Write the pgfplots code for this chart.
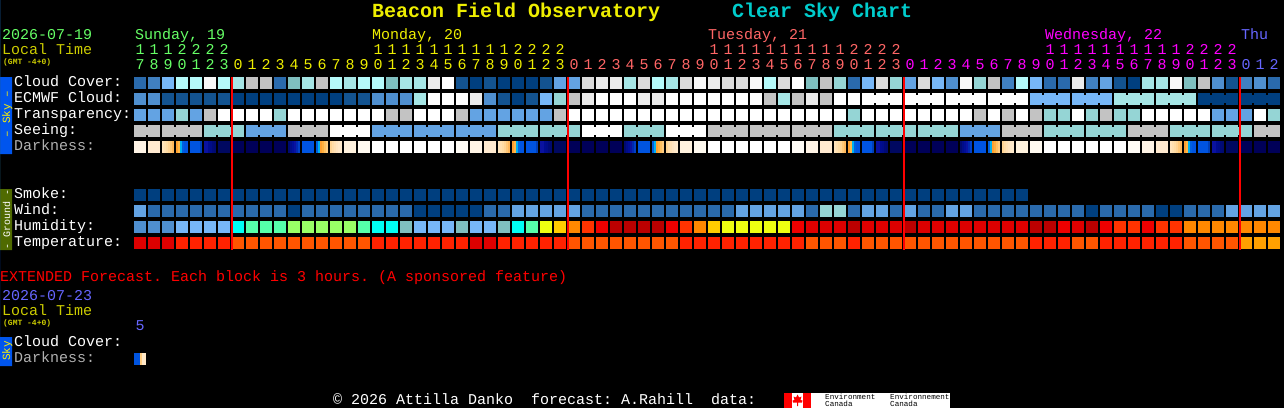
\documentclass[border=0pt]{standalone}
\usepackage{fontspec}
\setmainfont{Liberation Mono}
\usepackage{pgfplots}
\usepackage{pgfplotstable}
\pgfplotsset{compat=1.18}
\frenchspacing

% cloud / sky scale
\definecolor{cA}{HTML}{003F7F}\definecolor{cB}{HTML}{135390}\definecolor{cC}{HTML}{2A6AAC}
\definecolor{cD}{HTML}{4080C0}\definecolor{cE}{HTML}{4F8FCF}\definecolor{cF}{HTML}{63A3E3}
\definecolor{cG}{HTML}{77B7F7}\definecolor{cH}{HTML}{B5FAFA}\definecolor{cI}{HTML}{A6E6E6}
\definecolor{cJ}{HTML}{95D5D5}\definecolor{cK}{HTML}{7FBFBF}\definecolor{cL}{HTML}{C3C3C3}
\definecolor{cM}{HTML}{DBDBDB}\definecolor{cN}{HTML}{EBEBEB}\definecolor{cO}{HTML}{F8F8F8}
\definecolor{cW}{HTML}{FFFFFF}\definecolor{cX}{HTML}{000000}
% humidity
\definecolor{cCy}{HTML}{00FFF4}\definecolor{cMi}{HTML}{55FFAA}\definecolor{cLi}{HTML}{99FF66}
\definecolor{cYe}{HTML}{EEFF11}\definecolor{cAm}{HTML}{FFCC00}\definecolor{cOr}{HTML}{FF8800}
\definecolor{cRd}{HTML}{FF3300}\definecolor{cRe}{HTML}{EE0000}\definecolor{cDr}{HTML}{DD0000}
\definecolor{cBr}{HTML}{BB0000}
% temperature
\definecolor{cT2}{HTML}{FF2200}\definecolor{cT3}{HTML}{FF5500}\definecolor{cT4}{HTML}{FFA000}
% darkness
\definecolor{cP1}{HTML}{FFF4E6}\definecolor{cP2}{HTML}{FFEAD0}\definecolor{cQ1}{HTML}{FFF2DE}
\definecolor{cQ2}{HTML}{FFFAF0}\definecolor{cZ}{HTML}{FFFCF6}\definecolor{cBl}{HTML}{0054E0}
\definecolor{cN6}{HTML}{000860}\definecolor{cNv}{HTML}{000058}
\definecolor{ca1}{HTML}{FFE4BC}\definecolor{ca2}{HTML}{FFE0B0}\definecolor{ca3}{HTML}{FFDCA4}
\definecolor{ca4}{HTML}{FFD494}\definecolor{ca5}{HTML}{FFC878}\definecolor{ca6}{HTML}{FFB85C}
\definecolor{cb1}{HTML}{FFA030}\definecolor{cb2}{HTML}{FFB848}\definecolor{cb3}{HTML}{00B0F0}
\definecolor{cb4}{HTML}{0060E0}\definecolor{cb5}{HTML}{0040B8}
\definecolor{cn1}{HTML}{0A12A0}\definecolor{cn2}{HTML}{000C90}\definecolor{cn3}{HTML}{000C88}
\definecolor{cn4}{HTML}{000A78}\definecolor{cn5}{HTML}{000A70}\definecolor{cn6}{HTML}{000E98}
\definecolor{cn7}{HTML}{0028B0}\definecolor{cn8}{HTML}{0040C8}
\definecolor{cr1}{HTML}{FFB040}\definecolor{cr2}{HTML}{FFC060}\definecolor{cr3}{HTML}{FFCC80}
\definecolor{cr4}{HTML}{FFDCA8}\definecolor{cr5}{HTML}{FFE0B4}\definecolor{cr6}{HTML}{FFE4C0}
\definecolor{cr7}{HTML}{FFE8C8}\definecolor{cr8}{HTML}{FFEACC}
% text
\definecolor{tSun}{HTML}{66FF66}\definecolor{tMon}{HTML}{EEEE00}\definecolor{tTue}{HTML}{FF6666}
\definecolor{tWed}{HTML}{FF00FF}\definecolor{tThu}{HTML}{6666FF}\definecolor{tLoc}{HTML}{CCCC00}
\definecolor{tGry}{HTML}{B0B0B0}\definecolor{tCya}{HTML}{00CCCC}
\definecolor{bSky}{HTML}{0055EE}\definecolor{bGnd}{HTML}{4F6A00}

\pgfdeclareplotmark{block}{\pgfpathrectangle{\pgfpoint{-6pt}{-6pt}}{\pgfpoint{12pt}{12pt}}\pgfusepathqfill}
\pgfdeclareplotmark{link}{\pgfpathrectangle{\pgfpoint{-1.2pt}{-4pt}}{\pgfpoint{2.4pt}{8pt}}\pgfusepathqfill}
\pgfdeclareplotmark{stripe}{\pgfpathrectangle{\pgfpoint{-1pt}{-6pt}}{\pgfpoint{2pt}{12pt}}\pgfusepathqfill}

\pgfplotsset{
  csc/.style={only marks, scatter, point meta=explicit symbolic,
    scatter/classes={
      A={color=cA},B={color=cB},C={color=cC},D={color=cD},E={color=cE},F={color=cF},G={color=cG},
      H={color=cH},I={color=cI},J={color=cJ},K={color=cK},L={color=cL},M={color=cM},N={color=cN},
      O={color=cO},W={color=cW},X={color=cX},
      Cy={color=cCy},Mi={color=cMi},Li={color=cLi},Ye={color=cYe},Am={color=cAm},Or={color=cOr},
      Rd={color=cRd},Re={color=cRe},Dr={color=cDr},Br={color=cBr},
      T2={color=cT2},T3={color=cT3},T4={color=cT4},
      P1={color=cP1},P2={color=cP2},Q1={color=cQ1},Q2={color=cQ2},Z={color=cZ},Bl={color=cBl},
      N6={color=cN6},Nv={color=cNv},
      a1={color=ca1},a2={color=ca2},a3={color=ca3},a4={color=ca4},a5={color=ca5},a6={color=ca6},
      b1={color=cb1},b2={color=cb2},b3={color=cb3},b4={color=cb4},b5={color=cb5},
      n1={color=cn1},n2={color=cn2},n3={color=cn3},n4={color=cn4},n5={color=cn5},n6={color=cn6},
      n7={color=cn7},n8={color=cn8},
      r1={color=cr1},r2={color=cr2},r3={color=cr3},r4={color=cr4},r5={color=cr5},r6={color=cr6},
      r7={color=cr7},r8={color=cr8}}},
}

% one line per 1-hour block
\pgfplotstableread{
x c e t s d m w h p
140 C E F L P1 A F E Dr
154 D E F L P2 A C E Dr
168 G B F L X A C E Dr
182 H B J L X A C G T2
196 H B F L Bl A C G T2
210 O B L J X A C G T2
224 H B W J N6 A C G T2
238 I A W J Nv A C Cy T3
252 L A W F Nv A C Mi T3
266 L A W F Nv A C Mi T3
280 C A J F Nv A C Mi T3
294 K A W L X A A Li T3
308 I A W L Bl A C Li T3
322 L A W L X A C Li T3
336 H A W W X A C Li T3
350 I B W W Q1 A C Li T3
364 H B W W Q2 A C Mi T3
378 H E W F W A C Cy T2
392 K E L F W A C Cy T2
406 I E L F W A C K T2
420 I I W F W A A G T2
434 N W W F W A A G T2
448 W W W F W A A G T2
462 B W L F Z A A K T2
476 A N F F P1 A A G Dr
490 B E F F P2 A C G Dr
504 A B F J X A C K T2
518 A A F J X A F Cy T2
532 A B F J Bl A F Mi T2
546 B G F J X A F Ye T2
560 F J L J N6 A F Am T2
574 F L W J Nv A F Or T3
588 M N W W Nv A C Rd T3
602 N W W W Nv A C Re T3
616 N W W W Nv A C Br T3
630 I W W J X A C Br T3
644 M N W J Bl A C Br T3
658 H N W J X A C Br T3
672 I W W W X A C Re T3
686 M W W W Q1 A C Rd T2
700 O W W W Q2 A C Or T2
714 N W W L W A C Am T2
728 M W W L W A C Ye T2
742 M W W L W A F Ye T2
756 O W W L W A F Ye T2
770 H L W L W A F Ye T2
784 M I W L W A F Ye T2
798 W L W L Z A F Re T2
812 K N W L P1 A C Dr T3
826 L L W L P2 A J Dr T3
840 J W W J X A J Dr T3
854 C W J J X A C Br T2
868 G W W J Bl A F Dr T3
882 M W W J X A F Dr T3
896 J W W J N6 A C Dr T3
910 F W W J Nv A F Br T3
924 M W W J Nv A C Dr T3
938 G W W J Nv A C Dr T3
952 E W W J Nv A F Dr T3
966 O W W F X A F Dr T3
980 J W L F Bl A C Dr T3
994 L W W F X A C Dr T3
1008 D W L L X A C Dr T3
1022 H W W L Q1 A C Dr T3
1036 G G L L Q2 X C Br T2
1050 C G J J W X C Br T2
1064 C G J J W X C Re T2
1078 N G W J W X C Dr T3
1092 D G J J W X A Br T3
1106 F G L J W X C Re T2
1120 B I J J W X C Rd T2
1134 A I J L Z X C Rd T2
1148 I I W L P1 X C Re T2
1162 I I W L P2 X A Rd T2
1176 O I W J X X A Rd T2
1190 K I W J X X C Or T3
1204 L A W J Bl X C Or T3
1218 E A F J X X C Or T3
1232 B A F J N6 X F Or T3
1246 D A F J Nv X F Or T4
1260 E A W L Nv X F Or T4
1274 C A J L Nv X F Or T4
}\blocks

\newcommand{\txt}[5]{\node[anchor=base west,inner sep=0pt,text=#4,font=\fontsize{#5}{#5}\selectfont] at (#1,#2) {#3};}
\newcommand{\hours}[4]{\foreach \d [count=\n from 0] in {#4} {\node[anchor=base,inner sep=0pt,text=#3,font=\fontsize{15}{15}\selectfont] at ({140+14*(#1+\n)},#2) {\d};}}

\begin{document}
\begin{tikzpicture}
\begin{axis}[
    at={(0pt,0pt)}, anchor=south west,
    scale only axis, width=1284pt, height=408pt,
    xmin=0, xmax=1284, ymin=0, ymax=408, y dir=reverse,
    ticks=none, axis line style={draw=none},
    axis background/.style={fill=black},
    set layers,
]
% sidebars
\addplot[draw=none, fill=bSky] coordinates {(0,77) (12,77) (12,154) (0,154)} \closedcycle;
\addplot[draw=none, fill=bGnd] coordinates {(0,189) (12,189) (12,250) (0,250)} \closedcycle;
\addplot[draw=none, fill=bSky] coordinates {(0,337) (12,337) (12,366) (0,366)} \closedcycle;

% rows
\addplot[csc, mark=block] table[x=x, y expr=83, meta=c] {\blocks};
\addplot[csc, mark=block] table[x=x, y expr=99, meta=e] {\blocks};
\addplot[csc, mark=block] table[x=x, y expr=115, meta=t] {\blocks};
\addplot[csc, mark=block] table[x=x, y expr=131, meta=s] {\blocks};
\addplot[csc, mark=block] table[x=x, y expr=147, meta=d] {\blocks};
\addplot[csc, mark=block] table[x=x, y expr=195, meta=m] {\blocks};
\addplot[csc, mark=block] table[x=x, y expr=211, meta=w] {\blocks};
\addplot[csc, mark=block] table[x=x, y expr=227, meta=h] {\blocks};
\addplot[csc, mark=block] table[x=x, y expr=243, meta=p] {\blocks};

% 3-hour forecasts: blocks joined in threes
\addplot[csc, mark=link] coordinates {
(875,99)[W] (889,99)[W] (917,99)[W] (931,99)[W] (959,99)[W] (973,99)[W] (1001,99)[W] (1015,99)[W]
(1043,99)[G] (1057,99)[G] (1085,99)[G] (1099,99)[G]
(1127,99)[I] (1141,99)[I] (1169,99)[I] (1183,99)[I]
(1211,99)[A] (1225,99)[A] (1253,99)[A] (1267,99)[A]
(147,131)[L] (175,131)[L] (189,131)[L] (217,131)[J] (231,131)[J] (259,131)[F] (273,131)[F]
(301,131)[L] (315,131)[L] (343,131)[W] (357,131)[W] (385,131)[F] (399,131)[F] (427,131)[F] (441,131)[F]
(469,131)[F] (483,131)[F] (511,131)[J] (525,131)[J] (553,131)[J] (567,131)[J] (595,131)[W] (609,131)[W]
(637,131)[J] (651,131)[J] (679,131)[W] (693,131)[W] (721,131)[L] (735,131)[L] (763,131)[L] (777,131)[L]
(805,131)[L] (819,131)[L] (847,131)[J] (861,131)[J] (889,131)[J] (903,131)[J] (931,131)[J] (945,131)[J]
(973,131)[F] (987,131)[F] (1015,131)[L] (1029,131)[L] (1057,131)[J] (1071,131)[J] (1099,131)[J] (1113,131)[J]
(1141,131)[L] (1155,131)[L] (1183,131)[J] (1197,131)[J] (1225,131)[J] (1239,131)[J] (1267,131)[L]
};

% darkness: twilight blocks, in 2 px columns
\addplot[csc, mark=stripe] coordinates {
(163,147)[a1] (165,147)[a2] (167,147)[a3] (169,147)[a4] (171,147)[a5] (173,147)[a6]
(177,147)[b1] (179,147)[b2] (181,147)[b3] (183,147)[b4] (185,147)[Bl] (187,147)[Bl]
(201,147)[b5]
(205,147)[n1] (207,147)[n1] (209,147)[n2] (211,147)[n3] (213,147)[n4] (215,147)[n5]
(289,147)[n5] (291,147)[n3] (293,147)[n6] (295,147)[n1] (297,147)[n7] (299,147)[n8]
(317,147)[b4] (319,147)[b3] (321,147)[b1] (323,147)[r1] (325,147)[r2] (327,147)[r3]
(331,147)[a4] (333,147)[r4] (335,147)[r5] (337,147)[r6] (339,147)[r7] (341,147)[r8]
(499,147)[a1] (501,147)[a2] (503,147)[a3] (505,147)[a4] (507,147)[a5] (509,147)[a6]
(513,147)[b1] (515,147)[b2] (517,147)[b3] (519,147)[b4] (521,147)[Bl] (523,147)[Bl]
(537,147)[b5]
(541,147)[n1] (543,147)[n1] (545,147)[n2] (547,147)[n3] (549,147)[n4] (551,147)[n5]
(625,147)[n5] (627,147)[n3] (629,147)[n6] (631,147)[n1] (633,147)[n7] (635,147)[n8]
(653,147)[b4] (655,147)[b3] (657,147)[b1] (659,147)[r1] (661,147)[r2] (663,147)[r3]
(667,147)[a4] (669,147)[r4] (671,147)[r5] (673,147)[r6] (675,147)[r7] (677,147)[r8]
(835,147)[a1] (837,147)[a2] (839,147)[a3] (841,147)[a4] (843,147)[a5] (845,147)[a6]
(849,147)[b1] (851,147)[b2] (853,147)[b3] (855,147)[b4] (857,147)[Bl] (859,147)[Bl]
(873,147)[b5]
(877,147)[n1] (879,147)[n1] (881,147)[n2] (883,147)[n3] (885,147)[n4] (887,147)[n5]
(961,147)[n5] (963,147)[n3] (965,147)[n6] (967,147)[n1] (969,147)[n7] (971,147)[n8]
(989,147)[b4] (991,147)[b3] (993,147)[b1] (995,147)[r1] (997,147)[r2] (999,147)[r3]
(1003,147)[a4] (1005,147)[r4] (1007,147)[r5] (1009,147)[r6] (1011,147)[r7] (1013,147)[r8]
(1171,147)[a1] (1173,147)[a2] (1175,147)[a3] (1177,147)[a4] (1179,147)[a5] (1181,147)[a6]
(1185,147)[b1] (1187,147)[b2] (1189,147)[b3] (1191,147)[b4] (1193,147)[Bl] (1195,147)[Bl]
(1209,147)[b5]
(1213,147)[n1] (1215,147)[n1] (1217,147)[n2] (1219,147)[n3] (1221,147)[n4] (1223,147)[n5]
% extended forecast
(135,359)[Bl] (137,359)[Bl] (139,359)[Bl] (141,359)[r3] (143,359)[r7] (145,359)[r7]
};

% midnight lines, above the blocks
\addplot[red, line width=2pt, on layer=axis foreground] coordinates {(232,77) (232,250)};
\addplot[red, line width=2pt, on layer=axis foreground] coordinates {(568,77) (568,250)};
\addplot[red, line width=2pt, on layer=axis foreground] coordinates {(904,77) (904,250)};
\addplot[red, line width=2pt, on layer=axis foreground] coordinates {(1240,77) (1240,250)};
\end{axis}

\begin{scope}[x=1pt, y=-1pt, yshift=408pt]
% title
\node[anchor=base west,inner sep=0pt,text=tMon,font=\fontsize{20}{20}\selectfont\bfseries] at (372,18) {Beacon Field Observatory};
\node[anchor=base west,inner sep=0pt,text=tCya,font=\fontsize{20}{20}\selectfont\bfseries] at (732,18) {Clear Sky Chart};

% header
\txt{2}{40}{2026-07-19}{tSun}{15}
\txt{2}{55}{Local Time}{tLoc}{15}
\node[anchor=base west,inner sep=0pt,text=tLoc,font=\fontsize{8}{8}\selectfont\bfseries] at (3,65) {(GMT -4+0)};
\txt{135}{40}{Sunday, 19}{tSun}{15}
\txt{372}{40}{Monday, 20}{tMon}{15}
\txt{708}{40}{Tuesday, 21}{tTue}{15}
\txt{1045}{40}{Wednesday, 22}{tWed}{15}
\txt{1241}{40}{Thu}{tThu}{15}

% hours
\hours{0}{55}{tSun}{1,1,1,2,2,2,2}
\hours{0}{70}{tSun}{7,8,9,0,1,2,3}
\hours{17}{55}{tMon}{1,1,1,1,1,1,1,1,1,1,2,2,2,2}
\hours{7}{70}{tMon}{0,1,2,3,4,5,6,7,8,9,0,1,2,3,4,5,6,7,8,9,0,1,2,3}
\hours{41}{55}{tTue}{1,1,1,1,1,1,1,1,1,1,2,2,2,2}
\hours{31}{70}{tTue}{0,1,2,3,4,5,6,7,8,9,0,1,2,3,4,5,6,7,8,9,0,1,2,3}
\hours{65}{55}{tWed}{1,1,1,1,1,1,1,1,1,1,2,2,2,2}
\hours{55}{70}{tWed}{0,1,2,3,4,5,6,7,8,9,0,1,2,3,4,5,6,7,8,9,0,1,2,3}
\hours{79}{70}{tThu}{0,1,2}

% row labels
\txt{14}{86}{Cloud Cover:}{white}{15}
\txt{14}{102}{ECMWF Cloud:}{white}{15}
\txt{14}{118}{Transparency:}{white}{15}
\txt{14}{134}{Seeing:}{white}{15}
\txt{14}{150}{Darkness:}{tGry}{15}
\txt{14}{198}{Smoke:}{white}{15}
\txt{14}{214}{Wind:}{white}{15}
\txt{14}{230}{Humidity:}{white}{15}
\txt{14}{246}{Temperature:}{white}{15}

% sidebar text
\node[rotate=90,anchor=base,inner sep=0pt,text=yellow,font=\fontsize{11}{11}\selectfont] at (10,114) {-- Sky --};
\node[rotate=90,anchor=base,inner sep=0pt,text=white,font=\fontsize{10}{10}\selectfont] at (10,219) {- Ground -};
\node[rotate=90,anchor=base,inner sep=0pt,text=yellow,font=\fontsize{11}{11}\selectfont] at (10,351) {Sky};

% extended forecast
\txt{0}{281}{EXTENDED Forecast. Each block is 3 hours. (A sponsored feature)}{red}{15}
\txt{2}{300}{2026-07-23}{tThu}{15}
\txt{2}{315}{Local Time}{tLoc}{15}
\node[anchor=base west,inner sep=0pt,text=tLoc,font=\fontsize{8}{8}\selectfont\bfseries] at (3,325) {(GMT -4+0)};
\node[anchor=base,inner sep=0pt,text=tThu,font=\fontsize{15}{15}\selectfont] at (140,330) {5};
\txt{14}{346}{Cloud Cover:}{white}{15}
\txt{14}{362}{Darkness:}{tGry}{15}

% footer
\node[anchor=base west,inner sep=0pt,text=white,font=\fontsize{15}{15}\selectfont] at (333,404) {© 2026 Attilla Danko\ \ forecast: A.Rahill\ \ data:};

% logo
\fill[white] (784,393) rectangle (950,408);
\fill[red] (784,393) rectangle (792,408);
\fill[red] (803,393) rectangle (811,408);
\fill[red] (797.5,394.5) -- (799,397.5) -- (801.5,396.5) -- (800.5,400) -- (802.5,400.5) -- (802,402.5) -- (798,402.5) -- (798,406) -- (797,406) -- (797,402.5) -- (793,402.5) -- (792.5,400.5) -- (794.5,400) -- (793.5,396.5) -- (796,397.5) -- cycle;
\txt{825}{399.5}{Environment}{black}{7.6}
\txt{825}{406.5}{Canada}{black}{7.6}
\txt{890}{399.5}{Environnement}{black}{7.6}
\txt{890}{406.5}{Canada}{black}{7.6}
\end{scope}
\end{tikzpicture}
\end{document}
